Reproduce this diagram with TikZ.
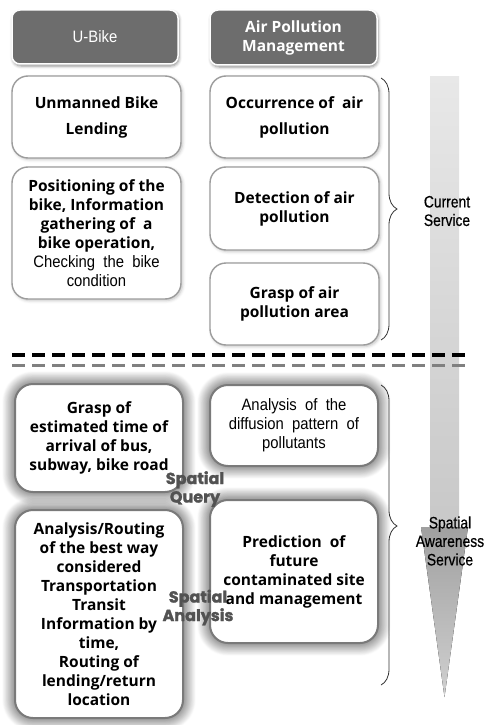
\documentclass[tikz,border=0pt]{standalone}
\usepackage{fontspec}
\setmainfont{Open Sans}
\newfontfamily\narrowfont{Liberation Sans}[FakeStretch=0.9,WordSpace=2]
\newfontfamily\sidefont{Liberation Sans}[FakeStretch=0.84,FakeBold=0.5]
\newfontfamily\geofont{Poppins}[BoldFeatures={FakeBold=1.6}]
\usetikzlibrary{decorations.pathreplacing,shadows.blur}
\definecolor{headgray}{HTML}{6D6D6D}
\definecolor{rimgray}{HTML}{9C9C9C}
\definecolor{deepgray}{HTML}{7A7A7A}
\definecolor{shafttop}{HTML}{E8E8E8}
\definecolor{shaftlow}{HTML}{C8C8C8}
\definecolor{headtop}{HTML}{A0A0A0}
\definecolor{headlow}{HTML}{D0D0D0}
\newcommand\lighttext[1]{{\narrowfont\mdseries\fontsize{16.5}{19}\selectfont #1}}
\tikzset{
	header/.style={draw=white, line width=1.5pt, fill=headgray, rounded corners=8pt, text=white, align=center, inner sep=0pt,
		blur shadow={shadow xshift=1pt, shadow yshift=-2pt, shadow blur radius=3pt, shadow opacity=45}},
	current/.style={draw=rimgray, line width=1.4pt, fill=white, rounded corners=16pt, align=center, inner sep=0pt,
		blur shadow={shadow xshift=1.5pt, shadow yshift=-1.5pt, shadow blur radius=3pt, shadow opacity=25}},
	spatial/.style={draw=deepgray, line width=2pt, fill=white, rounded corners=18pt, align=center, inner sep=0pt,
		blur shadow={shadow xshift=0pt, shadow yshift=0pt, shadow blur radius=13pt, shadow opacity=85, shadow blur steps=16}},
	boldtext/.style={font=\fontsize{15.5}{19}\selectfont\bfseries},
	thintext/.style={font=\narrowfont\fontsize{16.5}{19}\selectfont},
	tag/.style={font=\geofont\bfseries\fontsize{16}{18.5}\selectfont, text=black!68, align=center, inner sep=0pt},
	side/.style={font=\sidefont\fontsize{16.5}{18.5}\selectfont, text=black, align=center, inner sep=0pt},
}
\begin{document}
\begin{tikzpicture}[x=1pt, y=-1pt]
				\useasboundingbox (0,0) rectangle (485,725);
				\fill[top color=shafttop, bottom color=shaftlow] (430,76) rectangle (459,527);
				\fill[top color=headtop, bottom color=headlow] (421,527) -- (468,527) -- (444.5,697) -- cycle;
				\draw[line width=4pt, dash pattern=on 13pt off 7pt] (12,355) -- (468,355);
				\draw[line width=3pt, color=gray, dash pattern=on 13pt off 7pt] (12,365) -- (468,365);
				\draw[decorate, decoration={brace, amplitude=16pt}, color=black!80, line width=0.8pt] (381,78) -- (381,340);
				\draw[decorate, decoration={brace, amplitude=16pt, aspect=0.47}, color=black!80, line width=0.8pt] (381,385) -- (381,685);
				\node[header, thintext, minimum width=166pt, minimum height=54pt] (ubike) at (95,37) {U-Bike};
				\node[header, boldtext, minimum width=167pt, minimum height=55pt] (airmgmt) at (293.5,37.5) {Air Pollution\\Management};
				\node[current, boldtext, minimum width=169pt, minimum height=82pt] (lending) at (96.5,117) {Unmanned Bike\\[7pt]Lending};
				\node[current, boldtext, minimum width=169pt, minimum height=132pt] (positioning) at (96.5,233) {Positioning of the\\bike, Information\\gathering of~ a\\bike operation,\\\lighttext{Checking the bike}\\\lighttext{condition}};
				\node[current, boldtext, minimum width=169pt, minimum height=82pt] (occurrence) at (294.5,117) {Occurrence of~ air\\[7pt]pollution};
				\node[current, boldtext, minimum width=169pt, minimum height=83pt] (detection) at (294.5,208.5) {Detection of air\\pollution};
				\node[current, boldtext, minimum width=169pt, minimum height=82pt] (grasparea) at (294.5,304) {Grasp of air\\pollution area};
				\node[spatial, boldtext, minimum width=168pt, minimum height=108pt] (arrival) at (99,438) {Grasp of\\estimated time of\\arrival of bus,\\subway, bike road};
				\node[spatial, boldtext, minimum width=168pt, minimum height=208pt] (routing) at (99,614) {Analysis/Routing\\of the best way\\considered\\Transportation\\Transit\\Information by\\time,\\Routing of\\lending/return\\location};
				\node[spatial, thintext, minimum width=168pt, minimum height=81pt] (diffusion) at (294,425.5) {Analysis of the\\diffusion pattern of\\pollutants};
				\node[spatial, boldtext, minimum width=168pt, minimum height=143pt] (prediction) at (294,571.5) {Prediction~ of\\future\\contaminated site\\and management};
				\node[tag] (query) at (195,489) {Spatial\\Query};
				\node[tag] (analysis) at (198,607.5) {Spatial\\Analysis};
				\node[side] (current) at (447,211) {Current\\Service};
				\node[side] (awareness) at (450,541) {Spatial\\Awareness\\Service};
			\end{tikzpicture}
\end{document}
